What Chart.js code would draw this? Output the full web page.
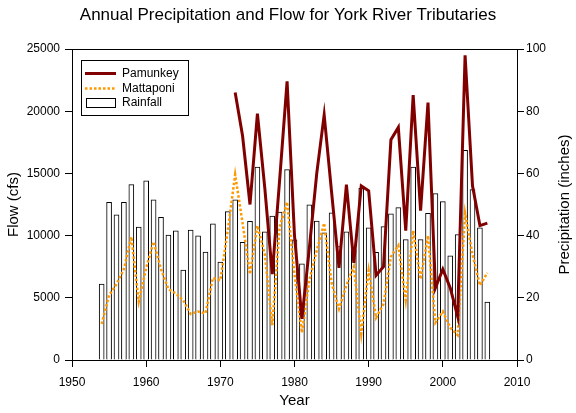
<!DOCTYPE html>
<html>
<head>
<meta charset="utf-8">
<script src="https://cdn.jsdelivr.net/npm/chart.js@4/dist/chart.umd.min.js"></script>
<style>
html,body{margin:0;padding:0;background:#fff;}
#wrap{width:576px;height:413px;position:relative;}
</style>
</head>
<body>
<div id="wrap"><canvas id="c" width="576" height="413"></canvas></div>
<script>
// ---- Data ----
const chartTitle = "Annual Precipitation and Flow for York River Tributaries";
const xTitle = "Year";
const yLeftTitle = "Flow (cfs)";
const yRightTitle = "Precipitation (inches)";

const years = [1954,1955,1956,1957,1958,1959,1960,1961,1962,1963,1964,1965,1966,1967,1968,1969,1970,1971,1972,1973,1974,1975,1976,1977,1978,1979,1980,1981,1982,1983,1984,1985,1986,1987,1988,1989,1990,1991,1992,1993,1994,1995,1996,1997,1998,1999,2000,2001,2002,2003,2004,2005,2006];

// Rainfall, inches (right axis)
const rainfall = [24.4,50.7,46.7,50.7,56.4,42.7,57.6,51.5,45.9,40.2,41.5,28.9,41.8,39.9,34.7,43.8,31.5,47.7,51.5,37.8,44.6,62.0,41.2,46.3,47.6,61.2,38.6,30.9,49.9,44.7,40.9,47.3,36.5,41.2,35.4,55.2,42.5,34.6,42.9,47.0,49.0,38.7,62.0,38.7,47.2,53.5,50.9,33.5,40.3,67.4,54.8,42.5,18.6];

// Mattaponi flow, cfs (left axis)
const mattaponi = [2900,5200,6100,7300,9900,4700,7400,9500,7300,5700,5350,4800,3700,3900,3750,6600,6400,10400,14900,11000,6900,10800,8500,2800,10700,12700,6900,2200,6400,8800,11000,6200,4100,6000,7500,2100,7200,3400,4500,8300,9200,4800,10400,6500,10000,3000,3900,2600,2000,11800,8500,6000,7000];

// Pamunkey flow, cfs (left axis)
const pamunkeyYears = [1972,1973,1974,1975,1976,1977,1978,1979,1980,1981,1982,1983,1984,1985,1986,1987,1988,1989,1990,1991,1992,1993,1994,1995,1996,1997,1998,1999,2000,2001,2002,2003,2004,2005,2006];
const pamunkey = [21500,18000,12500,19800,13800,6900,14500,22400,10000,3300,9000,15000,19700,13500,7400,14100,7800,14000,13600,6800,7500,17700,18700,10400,21300,12000,20700,5800,7300,5800,3500,24500,14000,10800,11000];

const xTicks = [1950,1960,1970,1980,1990,2000,2010];
const flowTicks = [0,5000,10000,15000,20000,25000];
const precipTicks = [0,20,40,60,80,100];

const legendLabels = ["Pamunkey","Mattaponi","Rainfall"];

// ---- Styles ----
const FONT = "'Liberation Sans', Arial, sans-serif";
const PAM_COLOR = "#800000";
const MAT_COLOR = "#FF9900";

Chart.defaults.font.family = FONT;
Chart.defaults.font.size = 12;
Chart.defaults.color = "#000";

const pts = (xs, ys) => xs.map((x, i) => ({x: x, y: ys[i]}));

const decorations = {
  id: 'decorations',
  afterDraw(chart) {
    const ctx = chart.ctx;
    const a = chart.chartArea;
    ctx.save();
    // top frame line
    ctx.strokeStyle = "#000";
    ctx.lineWidth = 1;
    ctx.beginPath();
    ctx.moveTo(Math.round(a.left) + 0.5, Math.round(a.top) + 0.5);
    ctx.lineTo(Math.round(a.right) + 0.5, Math.round(a.top) + 0.5);
    ctx.stroke();

    // title
    ctx.fillStyle = "#000";
    ctx.textAlign = "center";
    ctx.textBaseline = "middle";
    ctx.font = "17px " + FONT;
    ctx.fillText(chartTitle, 288, 15);

    // axis titles
    ctx.font = "15px " + FONT;
    ctx.fillText(xTitle, (a.left + a.right) / 2, 401);
    const midY = (a.top + a.bottom) / 2;
    ctx.save();
    ctx.translate(14, midY);
    ctx.rotate(-Math.PI / 2);
    ctx.fillText(yLeftTitle, 0, 0);
    ctx.restore();
    ctx.save();
    ctx.translate(565, midY);
    ctx.rotate(-Math.PI / 2);
    ctx.fillText(yRightTitle, 0, 0);
    ctx.restore();

    // legend
    const lx = 81.5, ly = 60.5, lw = 107, lh = 55;
    ctx.fillStyle = "#fff";
    ctx.fillRect(lx, ly, lw, lh);
    ctx.strokeStyle = "#000";
    ctx.lineWidth = 1;
    ctx.strokeRect(lx, ly, lw, lh);
    const rows = [73.5, 88.5, 103];
    // Pamunkey sample
    ctx.strokeStyle = PAM_COLOR;
    ctx.lineWidth = 3;
    ctx.beginPath(); ctx.moveTo(85, rows[0]); ctx.lineTo(116, rows[0]); ctx.stroke();
    // Mattaponi sample
    ctx.strokeStyle = MAT_COLOR;
    ctx.lineWidth = 2.5;
    ctx.setLineDash([2.5, 2]);
    ctx.beginPath(); ctx.moveTo(85, rows[1]); ctx.lineTo(116, rows[1]); ctx.stroke();
    ctx.setLineDash([]);
    // Rainfall sample
    ctx.fillStyle = "#fff";
    ctx.fillRect(86.5, 98.5, 29, 9);
    ctx.strokeStyle = "#000";
    ctx.lineWidth = 1;
    ctx.strokeRect(86.5, 98.5, 29, 9);
    ctx.fillStyle = "#000";
    ctx.textAlign = "left";
    ctx.font = "12px " + FONT;
    legendLabels.forEach((t, i) => ctx.fillText(t, 122, rows[i]));
    ctx.restore();
  }
};

new Chart(document.getElementById('c'), {
  data: {
    datasets: [
      {
        type: 'line',
        label: legendLabels[0],
        data: pts(pamunkeyYears, pamunkey),
        xAxisID: 'x',
        yAxisID: 'y',
        borderColor: PAM_COLOR,
        borderWidth: 3,
        pointRadius: 0,
        tension: 0,
        fill: false,
        order: 0
      },
      {
        type: 'line',
        label: legendLabels[1],
        data: pts(years, mattaponi),
        xAxisID: 'x',
        yAxisID: 'y',
        borderColor: MAT_COLOR,
        borderWidth: 2.5,
        borderDash: [2.5, 2],
        pointRadius: 0,
        tension: 0,
        fill: false,
        order: 1
      },
      {
        type: 'bar',
        label: legendLabels[2],
        data: pts(years, rainfall),
        xAxisID: 'x',
        yAxisID: 'y1',
        backgroundColor: "#fff",
        borderColor: "#000",
        borderWidth: 1,
        barThickness: 5,
        order: 2
      }
    ]
  },
  options: {
    responsive: false,
    animation: false,
    devicePixelRatio: 1,
    layout: { padding: { top: 49, left: 0, right: 0, bottom: 0 } },
    plugins: {
      legend: { display: false },
      title: { display: false },
      tooltip: { enabled: false }
    },
    scales: {
      x: {
        type: 'linear',
        position: 'bottom',
        offset: false,
        min: xTicks[0],
        max: xTicks[xTicks.length - 1],
        afterBuildTicks: s => { s.ticks = xTicks.map(v => ({value: v})); },
        afterFit: s => { s.height = 53; },
        grid: { offset: false, drawOnChartArea: false, drawTicks: true, tickLength: 7, color: "#000" },
        border: { display: true, color: "#000", width: 1 },
        ticks: { autoSkip: false, maxRotation: 0, padding: 8, callback: v => String(v) }
      },
      y: {
        type: 'linear',
        position: 'left',
        min: flowTicks[0],
        max: flowTicks[flowTicks.length - 1],
        afterBuildTicks: s => { s.ticks = flowTicks.map(v => ({value: v})); },
        afterFit: s => { s.width = 72; },
        grid: { drawOnChartArea: false, drawTicks: true, tickLength: 7, color: "#000" },
        border: { display: true, color: "#000", width: 1 },
        ticks: { padding: 5, callback: v => String(v) }
      },
      y1: {
        type: 'linear',
        position: 'right',
        min: precipTicks[0],
        max: precipTicks[precipTicks.length - 1],
        afterBuildTicks: s => { s.ticks = precipTicks.map(v => ({value: v})); },
        afterFit: s => { s.width = 59; },
        grid: { drawOnChartArea: false, drawTicks: true, tickLength: 7, color: "#000" },
        border: { display: true, color: "#000", width: 1 },
        ticks: { padding: 2, callback: v => String(v) }
      }
    }
  },
  plugins: [decorations]
});
</script>
</body>
</html>
